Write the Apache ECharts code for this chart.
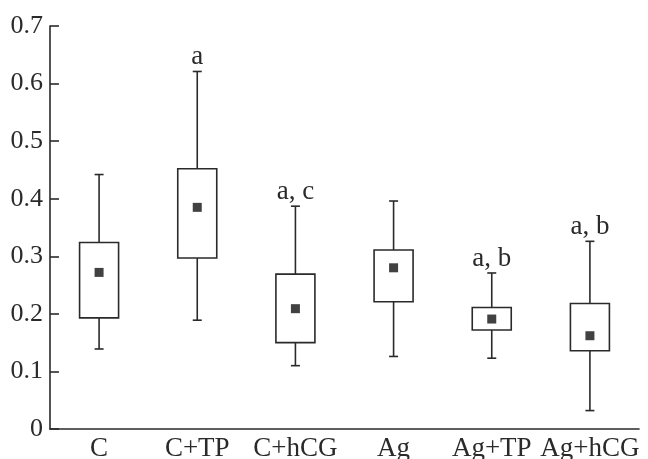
<!DOCTYPE html>
<html>
<head>
<meta charset="utf-8">
<script src="https://cdn.jsdelivr.net/npm/echarts@6/dist/echarts.min.js"></script>
<style>html,body{margin:0;padding:0;background:#fff}#c{width:648px;height:459px}</style>
</head>
<body>
<div id="c"></div>
<script>
var categories = ['C', 'C+TP', 'C+hCG', 'Ag', 'Ag+TP', 'Ag+hCG'];
var whiskerLow  = [0.139, 0.189, 0.110, 0.126, 0.123, 0.032];
var boxLow      = [0.193, 0.297, 0.150, 0.221, 0.172, 0.136];
var boxHigh     = [0.324, 0.452, 0.269, 0.311, 0.211, 0.218];
var whiskerHigh = [0.442, 0.621, 0.387, 0.396, 0.271, 0.326];
var means       = [0.272, 0.385, 0.209, 0.280, 0.191, 0.162];
var annotations = ['', 'a', 'a, c', '', 'a, b', 'a, b'];
var yTicks = [0, 0.1, 0.2, 0.3, 0.4, 0.5, 0.6, 0.7];

var FONT = '"Liberation Serif", "DejaVu Serif", serif';
var INK = '#2a2a2a';

var boxData = categories.map(function (c, i) {
  return [i, whiskerLow[i], boxLow[i], boxHigh[i], whiskerHigh[i]];
});

function renderBox(params, api) {
  var i = api.value(0);
  var pLow = api.coord([i, api.value(1)]);
  var pQ1 = api.coord([i, api.value(2)]);
  var pQ3 = api.coord([i, api.value(3)]);
  var pHigh = api.coord([i, api.value(4)]);
  var x = pLow[0];
  var bw = 39, cw = 9;
  var style = { stroke: INK, lineWidth: 1.6, fill: null };
  var children = [
    { type: 'line', shape: { x1: x, y1: pHigh[1], x2: x, y2: pQ3[1] }, style: style },
    { type: 'line', shape: { x1: x, y1: pQ1[1], x2: x, y2: pLow[1] }, style: style },
    { type: 'line', shape: { x1: x - cw / 2, y1: pHigh[1], x2: x + cw / 2, y2: pHigh[1] }, style: style },
    { type: 'line', shape: { x1: x - cw / 2, y1: pLow[1], x2: x + cw / 2, y2: pLow[1] }, style: style },
    { type: 'rect', shape: { x: x - bw / 2, y: pQ3[1], width: bw, height: pQ1[1] - pQ3[1] },
      style: { stroke: INK, lineWidth: 1.6, fill: '#fff' } }
  ];
  var t = annotations[params.dataIndex];
  if (t) {
    children.push({ type: 'text', x: x, y: pHigh[1] - 1,
      style: { text: t, align: 'center', verticalAlign: 'bottom', font: '27px ' + FONT, fill: INK } });
  }
  return { type: 'group', children: children };
}

var chart = echarts.init(document.getElementById('c'), null, { renderer: 'canvas' });
chart.setOption({
  animation: false,
  backgroundColor: '#fff',
  grid: { left: 50, right: 9, top: 26, bottom: 30, containLabel: false, outerBoundsMode: 'none' },
  xAxis: {
    type: 'category',
    data: categories,
    boundaryGap: true,
    axisLine: { lineStyle: { color: INK, width: 1.6 } },
    axisTick: { inside: true, alignWithLabel: true, length: 9, lineStyle: { color: INK, width: 1.6 } },
    axisLabel: { color: INK, fontFamily: FONT, fontSize: 27, margin: 6, interval: 0, hideOverlap: false },
    splitLine: { show: false }
  },
  yAxis: {
    type: 'value',
    min: 0, max: 0.7, interval: 0.1,
    axisLine: { show: true, lineStyle: { color: INK, width: 1.6 } },
    axisTick: { show: true, inside: true, length: 9, lineStyle: { color: INK, width: 1.6 } },
    axisLabel: { color: INK, fontFamily: FONT, fontSize: 26, margin: 7,
      formatter: function (v) { var r = Math.round(v * 10) / 10; return yTicks.indexOf(r) >= 0 ? String(r) : ''; } },
    splitLine: { show: false }
  },
  series: [
    { type: 'custom', renderItem: renderBox, data: boxData, encode: { x: 0, y: [1, 2, 3, 4] }, z: 2 },
    { type: 'scatter', data: means.map(function (m, i) { return [i, m]; }),
      symbol: 'rect', symbolSize: 9, itemStyle: { color: '#111' }, z: 3 }
  ]
});
</script>
</body>
</html>
